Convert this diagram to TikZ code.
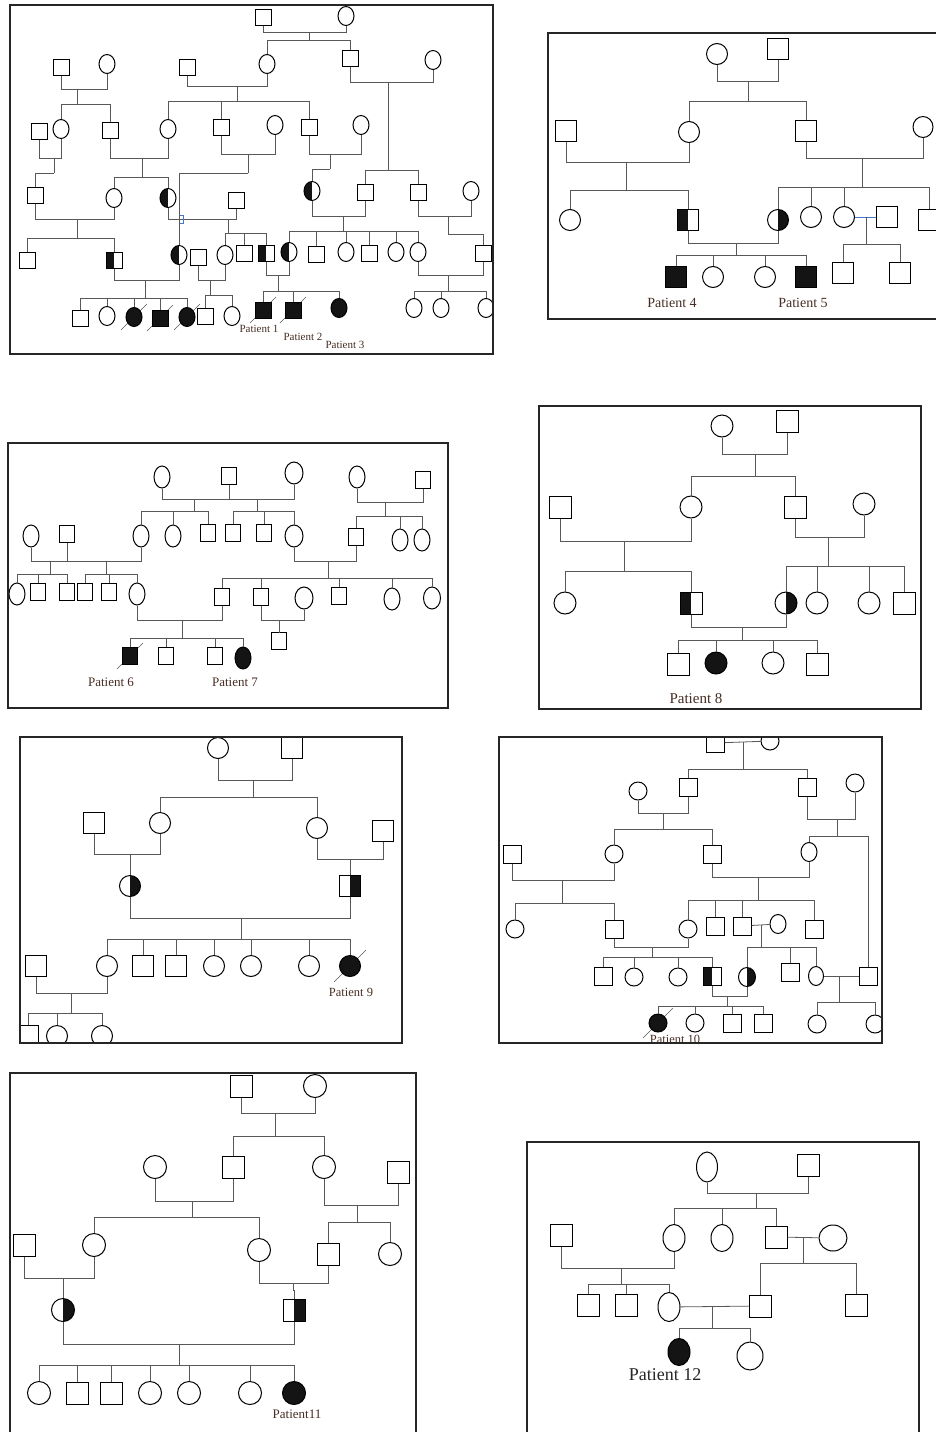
\documentclass[tikz,border=0pt]{standalone}
\usepackage{fontspec}
\setmainfont{Liberation Serif}
\usetikzlibrary{shapes.geometric, backgrounds}

\definecolor{linec}{RGB}{88,88,88}
\definecolor{labc}{RGB}{70,45,35}
\definecolor{hopc}{RGB}{70,120,200}

\newcommand{\marry}[5]{\draw[ln] (#1) -- (#1 |- 0,#3) -- (#2 |- 0,#3) -- (#2);
  \coordinate (#4) at (#5,#3);}
\newcommand{\kids}[3]{\draw[ln] (#1) -- (#1 |- 0,#2);
  \foreach \kid in {#3} {\draw[ln] (#1 |- 0,#2) -| (\kid);}}
\newcommand{\dead}[2][13]{\begin{scope}[on background layer]
  \draw[linec, line width=0.6pt] ([shift={(-#1,#1)}]#2.center) -- ([shift={(#1,-#1)}]#2.center);
  \end{scope}}

\begin{document}
\begin{tikzpicture}[
  x=1pt, y=-1pt,
  sym/.style={draw=black, line width=1pt, fill=white, inner sep=0pt},
  male/.style={sym, rectangle},
  fem/.style={sym, ellipse},
  aff/.style={fill=black!92},
  lhalf/.style={path picture={\fill[black!92] (path picture bounding box.south west) rectangle (path picture bounding box.north);}},
  rhalf/.style={path picture={\fill[black!92] (path picture bounding box.south) rectangle (path picture bounding box.north east);}},
  ln/.style={draw=linec, line width=0.8pt},
  frame/.style={draw=black!85, line width=1.6pt},
  lab/.style={font=\fontsize{#1}{#1}\selectfont, text=labc, inner sep=0pt}
]
\useasboundingbox (0,0) rectangle (935,1432);

\begin{scope}[male/.append style={minimum size=16pt}, fem/.append style={minimum width=16pt, minimum height=19pt}]
\clip (10,5) rectangle (493,354);
\node[male] (a01) at (263,17) {};
\node[fem] (a02) at (346,16) {};
\node[male] (a03) at (61,67) {};
\node[fem] (a04) at (107,64) {};
\node[male] (a05) at (187,67) {};
\node[fem] (a06) at (267,64) {};
\node[male] (a07) at (350,58) {};
\node[fem] (a08) at (433,60) {};
\node[male] (a09) at (39,131) {};
\node[fem] (a10) at (61,129) {};
\node[male] (a11) at (110,130) {};
\node[fem] (a12) at (168,129) {};
\node[male] (a13) at (221,127) {};
\node[fem] (a14) at (275,125) {};
\node[male] (a15) at (309,127) {};
\node[fem] (a16) at (361,125) {};
\node[male] (a17) at (35,195) {};
\node[fem] (a18) at (114,198) {};
\node[fem, lhalf] (a19) at (168,198) {};
\node[male] (a20) at (236,200) {};
\node[fem, lhalf] (a21) at (312,191) {};
\node[male] (a22) at (365,192) {};
\node[male] (a23) at (418,192) {};
\node[fem] (a24) at (471,191) {};
\node[male] (a25) at (27,260) {};
\node[male, lhalf] (a26) at (114,260) {};
\node[fem, lhalf] (a27) at (179,255) {};
\node[male] (a28) at (198,257) {};
\node[fem] (a29) at (225,255) {};
\node[male] (a30) at (244,253) {};
\node[male, lhalf] (a31) at (266,253) {};
\node[fem, lhalf] (a32) at (289,252) {};
\node[male] (a33) at (316,254) {};
\node[fem] (a34) at (346,252) {};
\node[male] (a35) at (369,253) {};
\node[fem] (a36) at (396,252) {};
\node[fem] (a37) at (418,252) {};
\node[male] (a38) at (483,253) {};
\node[male] (a39) at (80,318) {};
\node[fem] (a40) at (107,316) {};
\node[fem, aff] (a41) at (134,317) {};
\node[male, aff] (a42) at (160,318) {};
\node[fem, aff] (a43) at (187,317) {};
\node[male] (a44) at (205,316) {};
\node[fem] (a45) at (232,316) {};
\node[male, aff] (a46) at (263,310) {};
\node[male, aff] (a47) at (293,310) {};
\node[fem, aff] (a48) at (339,308) {};
\node[fem] (a49) at (414,308) {};
\node[fem] (a50) at (441,308) {};
\node[fem] (a51) at (486,308) {};

\marry{a01}{a02}{32}{ma1}{309} \kids{ma1}{40}{a06,a07}
\marry{a03}{a04}{89}{ma2}{77} \kids{ma2}{104}{a10,a11}
\marry{a05}{a06}{86}{ma3}{237} \kids{ma3}{101}{a12,a13,a15}
\marry{a07}{a08}{82}{ma4}{388} \kids{ma4}{170}{a22,a23}
\marry{a09}{a10}{158}{ma5}{54} \kids{ma5}{173}{a17}
\marry{a11}{a12}{158}{ma6}{142} \kids{ma6}{177}{a18,a19}
\marry{a13}{a14}{154}{ma7}{248} \kids{ma7}{173}{a27}
\marry{a15}{a16}{154}{ma8}{330} \kids{ma8}{169}{a21}
\marry{a17}{a18}{219}{ma9}{77} \kids{ma9}{238}{a25,a26}
\marry{a19}{a20}{219}{ma10}{228} \kids{ma10}{233}{a29,a30,a31}
\marry{a21}{a22}{216}{ma11}{343} \kids{ma11}{231}{a32,a33,a34,a35,a36,a37}
\marry{a23}{a24}{216}{ma12}{448} \kids{ma12}{234}{a38}
\marry{a26}{a27}{280}{ma13}{145} \kids{ma13}{298}{a39,a40,a41,a42,a43}
\marry{a28}{a29}{280}{ma14}{210} \kids{ma14}{295}{a44,a45}
\marry{a31}{a32}{275}{ma15}{278} \kids{ma15}{291}{a46,a47,a48}
\marry{a37}{a38}{275}{ma16}{448} \kids{ma16}{291}{a49,a50,a51}
\dead{a41} \dead{a42} \dead{a43} \dead{a46} \dead{a47}
\coordinate (hp) at (180,219);
\draw[hopc, line width=0.6pt] ([shift={(0,-4)}]hp) -- ++(3,0) -- ++(0,8) -- ++(-3,0);

\node[lab=11] (p1) at (259,329) {Patient 1};
\node[lab=11] (p2) at (303,337) {Patient 2};
\node[lab=11] (p3) at (345,345) {Patient 3};
\end{scope}
\draw[frame] (10,5) rectangle (493,354);

\begin{scope}[male/.append style={minimum size=21pt}, fem/.append style={minimum size=21pt}]
\node[fem] (b01) at (717,54) {};
\node[male] (b02) at (778,49) {};
\node[male] (b03) at (566,131) {};
\node[fem] (b04) at (689,132) {};
\node[male] (b05) at (806,131) {};
\node[fem, minimum width=20pt] (b06) at (923,127) {};
\node[fem] (b07) at (570,220) {};
\node[male, lhalf] (b08) at (688,220) {};
\node[fem, rhalf] (b09) at (778,220) {};
\node[fem] (b10) at (811,217) {};
\node[fem] (b11) at (844,217) {};
\node[male] (b12) at (887,217) {};
\node[male] (b13) at (929,220) {};
\node[male, aff] (b14) at (676,277) {};
\node[fem] (b15) at (713,277) {};
\node[fem] (b16) at (765,277) {};
\node[male, aff] (b17) at (806,277) {};
\node[male] (b18) at (843,273) {};
\node[male] (b19) at (900,273) {};

\marry{b01}{b02}{81}{mb1}{748} \kids{mb1}{101}{b04,b05}
\marry{b03}{b04}{162}{mb2}{626} \kids{mb2}{190}{b07,b08}
\marry{b05}{b06}{158}{mb3}{862} \kids{mb3}{187}{b09,b10,b11,b13}
\draw[ln, draw=hopc] (b11) -- (b12);
\coordinate (mb4) at (866,217);
\kids{mb4}{244}{b18,b19}
\marry{b08}{b09}{243}{mb5}{736} \kids{mb5}{255}{b14,b15,b16,b17}

\node[lab=14] (p4) at (672,303) {Patient 4};
\node[lab=14] (p5) at (803,303) {Patient 5};
\end{scope}
\draw[frame] (548,33) rectangle (945,319);

\begin{scope}[male/.append style={minimum width=15pt, minimum height=17pt}, fem/.append style={minimum width=16pt, minimum height=22pt}]
\node[fem] (c01) at (162,477) {};
\node[male] (c02) at (229,476) {};
\node[fem, minimum width=18pt] (c03) at (294,473) {};
\node[fem] (c04) at (357,477) {};
\node[male] (c05) at (423,480) {};
\node[fem] (c06) at (31,536) {};
\node[male] (c07) at (67,534) {};
\node[fem] (c08) at (141,536) {};
\node[fem] (c09) at (173,536) {};
\node[male] (c10) at (208,533) {};
\node[male] (c11) at (233,533) {};
\node[male] (c12) at (264,533) {};
\node[fem, minimum width=18pt] (c13) at (294,536) {};
\node[male] (c14) at (356,537) {};
\node[fem] (c15) at (400,540) {};
\node[fem] (c16) at (422,540) {};
\node[fem] (c17) at (17,594) {};
\node[male] (c18) at (38,592) {};
\node[male] (c19) at (67,592) {};
\node[male] (c20) at (85,592) {};
\node[male] (c21) at (109,592) {};
\node[fem] (c22) at (137,594) {};
\node[male] (c23) at (222,597) {};
\node[male] (c24) at (261,597) {};
\node[fem, minimum width=18pt] (c25) at (304,598) {};
\node[male] (c26) at (339,596) {};
\node[fem] (c27) at (392,599) {};
\node[fem, minimum width=17pt] (c28) at (432,598) {};
\node[male] (c29) at (279,641) {};
\node[male, aff] (c30) at (130,656) {};
\node[male] (c31) at (166,656) {};
\node[male] (c32) at (215,656) {};
\node[fem, aff] (c33) at (243,658) {};

\marry{c01}{c02}{499}{mc1}{194} \kids{mc1}{511}{c08,c09,c10}
\marry{c02}{c03}{499}{mc2}{257} \kids{mc2}{511}{c11,c12,c13}
\marry{c04}{c05}{502}{mc3}{385} \kids{mc3}{516}{c14,c15,c16}
\marry{c06}{c07}{561}{mc4}{50} \kids{mc4}{574}{c17,c18,c19}
\marry{c07}{c08}{561}{mc5}{106} \kids{mc5}{574}{c20,c21,c22}
\marry{c13}{c14}{561}{mc6}{328} \kids{mc6}{578}{c23,c24,c26,c27,c28}
\marry{c24}{c25}{620}{mc7}{279} \kids{mc7}{633}{c29}
\marry{c22}{c23}{620}{mc8}{182} \kids{mc8}{638}{c30,c31,c32,c33}
\dead{c30}

\node[lab=13] (p6) at (111,682) {Patient 6};
\node[lab=13] (p7) at (235,682) {Patient 7};
\end{scope}
\draw[frame] (8,443) rectangle (448,708);

\begin{scope}[male/.append style={minimum size=22pt}, fem/.append style={minimum size=22pt}]
\node[fem] (d01) at (722,426) {};
\node[male] (d02) at (787,421) {};
\node[male] (d03) at (560,507) {};
\node[fem] (d04) at (691,507) {};
\node[male] (d05) at (795,507) {};
\node[fem] (d06) at (864,504) {};
\node[fem] (d07) at (565,603) {};
\node[male, lhalf] (d08) at (691,603) {};
\node[fem, rhalf] (d09) at (786,603) {};
\node[fem] (d10) at (817,603) {};
\node[fem] (d11) at (869,603) {};
\node[male] (d12) at (904,603) {};
\node[male] (d13) at (678,664) {};
\node[fem, aff] (d14) at (716,663) {};
\node[fem] (d15) at (773,663) {};
\node[male] (d16) at (817,664) {};

\marry{d01}{d02}{454}{md1}{755} \kids{md1}{476}{d04,d05}
\marry{d03}{d04}{541}{md2}{624} \kids{md2}{571}{d07,d08}
\marry{d05}{d06}{537}{md3}{828} \kids{md3}{566}{d09,d10,d11,d12}
\marry{d08}{d09}{627}{md4}{742} \kids{md4}{640}{d13,d14,d15,d16}

\node[lab=15] (p8) at (696,699) {Patient 8};
\end{scope}
\draw[frame] (539,406) rectangle (921,709);

\begin{scope}[male/.append style={minimum size=21pt}, fem/.append style={minimum size=21pt}]
\clip (20,737) rectangle (402,1043);
\node[fem] (e01) at (218,748) {};
\node[male] (e02) at (292,748) {};
\node[male] (e03) at (94,823) {};
\node[fem] (e04) at (160,823) {};
\node[fem] (e05) at (317,828) {};
\node[male] (e06) at (383,831) {};
\node[fem, rhalf] (e07) at (130,886) {};
\node[male, rhalf] (e08) at (350,886) {};
\node[male] (e09) at (36,966) {};
\node[fem] (e10) at (107,966) {};
\node[male] (e11) at (143,966) {};
\node[male] (e12) at (176,966) {};
\node[fem] (e13) at (214,966) {};
\node[fem] (e14) at (251,966) {};
\node[fem] (e15) at (309,966) {};
\node[fem, aff] (e16) at (350,966) {};
\node[male] (e17) at (28,1036) {};
\node[fem] (e18) at (57,1036) {};
\node[fem] (e19) at (102,1036) {};

\marry{e01}{e02}{780}{me1}{253} \kids{me1}{797}{e04,e05}
\marry{e03}{e04}{854}{me2}{130} \kids{me2}{860}{e07}
\marry{e05}{e06}{859}{me3}{350} \kids{me3}{865}{e08}
\marry{e07}{e08}{918}{me4}{241} \kids{me4}{939}{e10,e11,e12,e13,e14,e15,e16}
\marry{e09}{e10}{993}{me5}{71} \kids{me5}{1013}{e17,e18,e19}
\dead[16]{e16}

\node[lab=12.5] (p9) at (351,992) {Patient 9};
\end{scope}
\draw[frame] (20,737) rectangle (402,1043);

\begin{scope}[male/.append style={minimum size=18pt}, fem/.append style={minimum size=18pt}]
\clip (499,737) rectangle (882,1043);
\node[male] (f01) at (715,743) {};
\node[fem] (f02) at (770,741) {};
\node[fem] (f03) at (638,791) {};
\node[male] (f04) at (688,787) {};
\node[male] (f05) at (807,787) {};
\node[fem] (f06) at (855,783) {};
\node[male] (f07) at (512,854) {};
\node[fem] (f08) at (614,854) {};
\node[male] (f09) at (712,854) {};
\node[fem, minimum width=16pt, minimum height=19pt] (f10) at (809,852) {};
\node[fem] (f11) at (515,929) {};
\node[male] (f12) at (614,929) {};
\node[fem] (f13) at (688,929) {};
\node[male] (f14) at (715,926) {};
\node[male] (f15) at (742,926) {};
\node[fem, minimum width=16pt, minimum height=19pt] (f16) at (778,924) {};
\node[male] (f17) at (814,929) {};
\node[male] (f18) at (603,976) {};
\node[fem] (f19) at (634,977) {};
\node[fem] (f20) at (678,977) {};
\node[male, lhalf] (f21) at (712,976) {};
\node[fem, rhalf, minimum width=17pt, minimum height=19pt] (f22) at (747,977) {};
\node[male] (f23) at (790,972) {};
\node[fem, minimum width=15pt, minimum height=19pt] (f24) at (816,976) {};
\node[male] (f25) at (868,976) {};
\node[fem, aff] (f26) at (658,1023) {};
\node[fem] (f27) at (695,1023) {};
\node[male] (f28) at (732,1023) {};
\node[male] (f29) at (763,1023) {};
\node[fem] (f30) at (817,1024) {};
\node[fem] (f31) at (875,1024) {};

\draw[ln] (f01) -- (f02);
\coordinate (mf1) at (743,742);
\kids{mf1}{769}{f04,f05}
\marry{f03}{f04}{813}{mf2}{663} \kids{mf2}{829}{f08,f09}
\marry{f05}{f06}{819}{mf3}{837} \kids{mf3}{836}{f10,f25}
\marry{f07}{f08}{880}{mf4}{562} \kids{mf4}{903}{f11,f12}
\marry{f09}{f10}{877}{mf5}{758} \kids{mf5}{900}{f13,f14,f15,f17}
\draw[ln] (f15) -- (f16);
\coordinate (mf6) at (761,925);
\kids{mf6}{947}{f22,f23,f24}
\marry{f12}{f13}{947}{mf7}{652} \kids{mf7}{957}{f18,f19,f20,f21}
\marry{f21}{f22}{996}{mf8}{727} \kids{mf8}{1006}{f26,f27,f28,f29}
\draw[ln] (f24) -- (f25);
\coordinate (mf9) at (839,976);
\kids{mf9}{1002}{f30,f31}
\dead[15]{f26}

\node[lab=12.5] (p10) at (675,1039) {Patient 10};
\end{scope}
\draw[frame] (499,737) rectangle (882,1043);

\begin{scope}[male/.append style={minimum size=22pt}, fem/.append style={minimum size=23pt}]
\node[male] (g01) at (241,1086) {};
\node[fem] (g02) at (315,1086) {};
\node[fem] (g03) at (155,1167) {};
\node[male] (g04) at (233,1167) {};
\node[fem] (g05) at (324,1167) {};
\node[male] (g06) at (398,1172) {};
\node[male] (g07) at (24,1245) {};
\node[fem] (g08) at (94,1245) {};
\node[fem] (g09) at (259,1250) {};
\node[male] (g10) at (328,1254) {};
\node[fem] (g11) at (390,1254) {};
\node[fem, rhalf] (g12) at (63,1310) {};
\node[male, rhalf] (g13) at (294,1310) {};
\node[fem] (g14) at (39,1393) {};
\node[male] (g15) at (77,1393) {};
\node[male] (g16) at (111,1393) {};
\node[fem] (g17) at (150,1393) {};
\node[fem] (g18) at (189,1393) {};
\node[fem] (g19) at (250,1393) {};
\node[fem, aff] (g20) at (294,1393) {};

\marry{g01}{g02}{1113}{mg1}{275} \kids{mg1}{1136}{g04,g05}
\marry{g03}{g04}{1201}{mg2}{192} \kids{mg2}{1217}{g08,g09}
\marry{g05}{g06}{1205}{mg3}{357} \kids{mg3}{1222}{g10,g11}
\marry{g07}{g08}{1278}{mg4}{63} \kids{mg4}{1285}{g12}
\marry{g09}{g10}{1283}{mg5}{293} \kids{mg5}{1290}{g13}
\marry{g12}{g13}{1344}{mg6}{179} \kids{mg6}{1365}{g14,g15,g16,g17,g18,g19,g20}

\node[lab=13] (p11) at (297,1414) {Patient11};
\end{scope}
\draw[frame] (10,1073) rectangle (416,1445);

\begin{scope}[male/.append style={minimum size=22pt}, fem/.append style={minimum width=22pt, minimum height=27pt}]
\node[fem, minimum width=21pt, minimum height=30pt] (h01) at (707,1167) {};
\node[male] (h02) at (808,1165) {};
\node[male] (h03) at (561,1235) {};
\node[fem] (h04) at (674,1238) {};
\node[fem] (h05) at (722,1238) {};
\node[male] (h06) at (776,1237) {};
\node[fem, minimum width=28pt, minimum height=26pt] (h07) at (833,1238) {};
\node[male] (h08) at (588,1305) {};
\node[male] (h09) at (626,1305) {};
\node[fem, minimum height=29pt] (h10) at (669,1307) {};
\node[male] (h11) at (760,1306) {};
\node[male] (h12) at (856,1305) {};
\node[fem, aff] (h13) at (679,1352) {};
\node[fem, minimum width=26pt, minimum height=28pt] (h14) at (750,1356) {};

\marry{h01}{h02}{1193}{mh1}{756} \kids{mh1}{1208}{h04,h05,h06}
\draw[ln] (h06) -- (h07);
\coordinate (mh2) at (803,1238);
\kids{mh2}{1263}{h11,h12}
\marry{h03}{h04}{1268}{mh3}{621} \kids{mh3}{1284}{h08,h09,h10}
\draw[ln] (h10) -- (h11);
\coordinate (mh4) at (712,1307);
\kids{mh4}{1328}{h13,h14}

\node[lab=18, text=black!85] (p12) at (665,1375) {Patient 12};
\end{scope}
\draw[frame] (527,1142) rectangle (919,1445);
\end{tikzpicture}
\end{document}
